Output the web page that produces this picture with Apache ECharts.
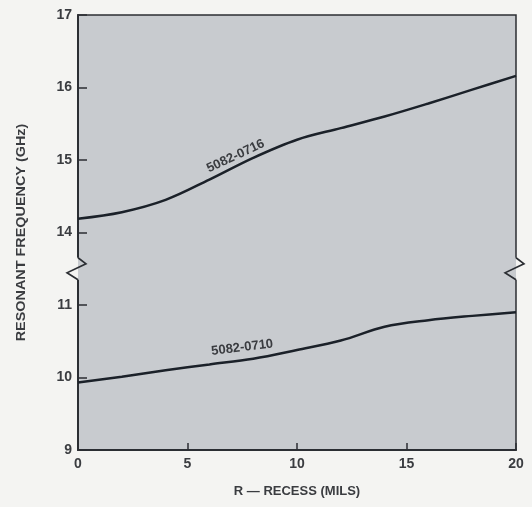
<!DOCTYPE html>
<html><head><meta charset="utf-8">
<script src="https://cdn.jsdelivr.net/npm/echarts@6/dist/echarts.min.js"></script>
<style>html,body{margin:0;padding:0;background:#f4f4f2}#c{width:532px;height:507px}</style>
</head><body><div id="c"></div>
<script>
// ---- data ----
const recess = [0, 2, 4, 6, 8, 10, 12, 14, 16, 18, 20];            // R - recess (mils)
const freq0716 = [14.19, 14.28, 14.45, 14.73, 15.03, 15.28, 15.44, 15.60, 15.78, 15.97, 16.16]; // GHz
const freq0710 = [9.93, 10.01, 10.10, 10.18, 10.26, 10.38, 10.51, 10.70, 10.79, 10.85, 10.90];  // GHz
const xTicks = [0, 5, 10, 15, 20];
const yTickLabels = [9, 10, 11, 14, 15, 16, 17];
const seriesNames = ['5082-0716', '5082-0710'];

// broken axis: the 11..14 gap is collapsed to one unit
const BREAK_LOW = 11, BREAK_HIGH = 14;
const SHIFT = BREAK_HIGH - BREAK_LOW - 1;
function toAxis(v) { return v >= BREAK_HIGH ? v - SHIFT : v; }
function fromAxis(a) { return a > BREAK_LOW + 0.5 ? a + SHIFT : a; }

const FONT = '"Liberation Sans", Arial, Helvetica, sans-serif';
const PLOT_BG = '#c8cbcf';
const PAGE_BG = '#f4f4f2';
const INK = '#2b2e33';
const TXT = '#3a3c40';

const chart = echarts.init(document.getElementById('c'), null, { renderer: 'canvas' });
chart.setOption({
  backgroundColor: PAGE_BG,
  animation: false,
  grid: { left: 78, right: 16, top: 15, bottom: 57, show: true, backgroundColor: PLOT_BG,
          borderColor: INK, borderWidth: 1.5 },
  xAxis: {
    type: 'value', min: xTicks[0], max: xTicks[xTicks.length - 1], interval: 5,
    name: 'R — RECESS (MILS)', nameLocation: 'middle', nameGap: 35,
    nameTextStyle: { fontFamily: FONT, fontSize: 13, fontWeight: 'bold', color: TXT },
    axisLine: { show: true, lineStyle: { color: INK, width: 2 } },
    axisTick: { show: true, inside: true, length: 7, lineStyle: { color: INK, width: 1.5 } },
    axisLabel: { margin: 7, fontFamily: FONT, fontSize: 14, fontWeight: 'bold', color: TXT },
    splitLine: { show: false }
  },
  yAxis: {
    type: 'value', min: toAxis(yTickLabels[0]), max: toAxis(yTickLabels[yTickLabels.length - 1]), interval: 1,
    axisLine: { show: true, lineStyle: { color: INK, width: 2 } },
    axisTick: { show: true, inside: true, length: 9, lineStyle: { color: INK, width: 1.5 } },
    axisLabel: { margin: 6, fontFamily: FONT, fontSize: 14, fontWeight: 'bold', color: TXT,
                 formatter: v => String(Math.round(fromAxis(v))) },
    splitLine: { show: false }
  },
  series: [
    { name: seriesNames[0], type: 'line', smooth: 0.35, symbol: 'none',
      lineStyle: { color: '#1b2129', width: 2.5 },
      data: recess.map((x, i) => [x, toAxis(freq0716[i])]) },
    { name: seriesNames[1], type: 'line', smooth: 0.35, symbol: 'none',
      lineStyle: { color: '#1b2129', width: 2.5 },
      data: recess.map((x, i) => [x, toAxis(freq0710[i])]) }
  ]
});

// decorations: break marks, curve labels, y-axis title
const px = (x, y) => chart.convertToPixel({ gridIndex: 0 }, [x, y]);
const breakMid = (BREAK_LOW + 0.5);
const L = px(xTicks[0], breakMid), R = px(xTicks[xTicks.length - 1], breakMid);
function zig(cx, cy) {
  return [[cx, cy - 11], [cx + 8, cy - 5], [cx - 11, cy + 4], [cx, cy + 11]];
}
const lab1 = px(7.2, toAxis(14.93));
const lab2 = px(7.5, toAxis(10.22));
const gTop = px(0, toAxis(17))[1], gBot = px(0, toAxis(9))[1];
chart.setOption({
  graphic: [
    { type: 'rect', shape: { x: L[0] - 2, y: L[1] - 11, width: 2, height: 22 }, style: { fill: PAGE_BG }, z: 10 },
    { type: 'rect', shape: { x: L[0], y: L[1] - 11, width: 2, height: 22 }, style: { fill: PLOT_BG }, z: 10 },
    { type: 'polyline', shape: { points: zig(L[0], L[1]) }, style: { stroke: INK, lineWidth: 1.6, fill: null }, z: 11 },
    { type: 'rect', shape: { x: R[0] - 2, y: R[1] - 11, width: 2, height: 22 }, style: { fill: PLOT_BG }, z: 10 },
    { type: 'rect', shape: { x: R[0], y: R[1] - 11, width: 2, height: 22 }, style: { fill: PAGE_BG }, z: 10 },
    { type: 'polyline', shape: { points: zig(R[0], R[1]) }, style: { stroke: INK, lineWidth: 1.6, fill: null }, z: 11 },
    { type: 'text', x: lab1[0], y: lab1[1] - 9, rotation: 25 * Math.PI / 180, z: 12,
      style: { text: seriesNames[0], font: 'bold 13px ' + FONT, fill: TXT, align: 'center', verticalAlign: 'middle' } },
    { type: 'text', x: lab2[0], y: lab2[1] - 14, rotation: 7 * Math.PI / 180, z: 12,
      style: { text: seriesNames[1], font: 'bold 13px ' + FONT, fill: TXT, align: 'center', verticalAlign: 'middle' } },
    { type: 'text', x: 22, y: (gTop + gBot) / 2, rotation: Math.PI / 2, scaleX: 1.2, z: 12,
      style: { text: 'RESONANT FREQUENCY (GHz)', font: 'bold 12px ' + FONT, fill: TXT, align: 'center', verticalAlign: 'middle' } }
  ]
});
</script>
</body></html>
